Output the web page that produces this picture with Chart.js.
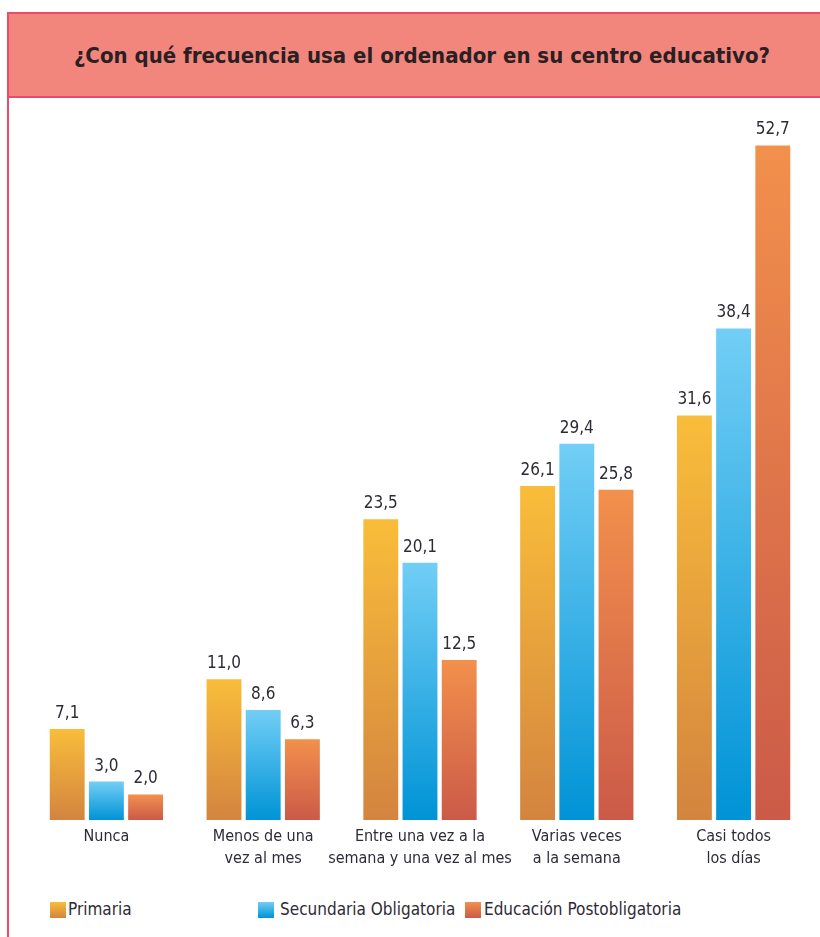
<!DOCTYPE html>
<html>
<head>
<meta charset="utf-8">
<script src="https://cdn.jsdelivr.net/npm/chart.js@4"></script>
<style>
  body { margin: 0; width: 820px; height: 937px; background: #fff; position: relative; overflow: hidden;
         font-family: "Liberation Sans Narrow", "DejaVu Sans Condensed", sans-serif; color: #2f2b36; }
  #frame { position: absolute; left: 7px; top: 12px; width: 830px; height: 940px; border-left: 2px solid #ea4b6c; }
  #title { position: absolute; left: 7px; top: 12px; width: 830px; height: 82px; background: #f2867d;
           border: 2px solid #ea4b6c; }
  #title span { position: absolute; left: 0; width: 826px; top: 0; line-height: 84px; text-align: center;
                font-weight: bold; font-size: 22px; color: #2a1f22; }
  #wrap { position: absolute; left: 0; top: 100px; width: 820px; height: 780px; }
  .leg { position: absolute; top: 900px; font-size: 17px; line-height: 18px; }
  .leg i { position: absolute; top: 2px; width: 16px; height: 16px; }
</style>
</head>
<body>
<div id="frame"></div>
<div id="title"><span>¿Con qué frecuencia usa el ordenador en su centro educativo?</span></div>
<div id="wrap"><canvas id="grafico"></canvas></div>
<div id="legend"></div>
<script>
const categorias = [
    ['Nunca'],
    ['Menos de una', 'vez al mes'],
    ['Entre una vez a la', 'semana y una vez al mes'],
    ['Varias veces', 'a la semana'],
    ['Casi todos', 'los días']
];
const primaria = [7.1, 11.0, 23.5, 26.1, 31.6];
const secundaria = [3.0, 8.6, 20.1, 29.4, 38.4];
const postobligatoria = [2.0, 6.3, 12.5, 25.8, 52.7];
const series = ['Primaria', 'Secundaria Obligatoria', 'Educación Postobligatoria'];
const gradientes = [
    ['#f9bd3a', '#d3843f'],
    ['#72cef5', '#0093d6'],
    ['#f2904c', '#cb5a48']
];

const fuente = '"Liberation Sans Narrow", "DejaVu Sans Condensed", sans-serif';

function colorBarra(idx) {
    return function (ctx) {
        const chart = ctx.chart;
        const yScale = chart.scales.y;
        if (!yScale || ctx.parsed === undefined || ctx.parsed === null) {
            return gradientes[idx][0];
        }
        const top = yScale.getPixelForValue(ctx.parsed.y);
        const bottom = yScale.getPixelForValue(0);
        if (!isFinite(top) || !isFinite(bottom) || top === bottom) {
            return gradientes[idx][0];
        }
        const g = chart.ctx.createLinearGradient(0, top, 0, bottom);
        g.addColorStop(0, gradientes[idx][0]);
        g.addColorStop(1, gradientes[idx][1]);
        return g;
    };
}

const etiquetasValor = {
    id: 'etiquetasValor',
    afterDatasetsDraw(chart) {
        const ctx = chart.ctx;
        ctx.save();
        ctx.font = '17px ' + fuente;
        ctx.fillStyle = '#2f2b36';
        ctx.textAlign = 'center';
        ctx.textBaseline = 'bottom';
        chart.data.datasets.forEach(function (ds, i) {
            chart.getDatasetMeta(i).data.forEach(function (bar, j) {
                ctx.fillText(ds.data[j].toFixed(1).replace('.', ','), bar.x, bar.y - 7);
            });
        });
        ctx.restore();
    }
};

new Chart(document.getElementById('grafico').getContext('2d'), {
    type: 'bar',
    data: {
        labels: categorias,
        datasets: series.map(function (nombre, i) {
            return {
                label: nombre,
                data: [primaria, secundaria, postobligatoria][i],
                backgroundColor: colorBarra(i),
                borderWidth: 0
            };
        })
    },
    options: {
        responsive: true,
        maintainAspectRatio: false,
        animation: false,
        layout: { padding: { left: 28, right: 8, top: 16, bottom: 0 } },
        datasets: { bar: { categoryPercentage: 0.75, barPercentage: 0.89 } },
        plugins: {
            legend: { display: false },
            tooltip: { enabled: false }
        },
        scales: {
            x: {
                grid: { display: false, drawTicks: false },
                border: { display: false },
                ticks: { color: '#2f2b36', font: { family: fuente, size: 16, lineHeight: 1.35 }, padding: 6, maxRotation: 0, autoSkip: false },
                afterFit(scale) { scale.height = 60; }
            },
            y: { display: false, min: 0, max: 55 }
        }
    },
    plugins: [etiquetasValor]
});

const leyenda = document.getElementById('legend');
const posiciones = [[50, 68], [258, 280], [465, 484]];
series.forEach(function (nombre, i) {
    const d = document.createElement('div');
    d.className = 'leg';
    d.style.left = posiciones[i][0] + 'px';
    d.innerHTML = '<i style="left:0;background:linear-gradient(' + gradientes[i][0] + ',' + gradientes[i][1] + ')"></i>' +
        '<span style="position:absolute;left:' + (posiciones[i][1] - posiciones[i][0]) + 'px;white-space:nowrap">' + nombre + '</span>';
    leyenda.appendChild(d);
});
</script>
</body>
</html>
